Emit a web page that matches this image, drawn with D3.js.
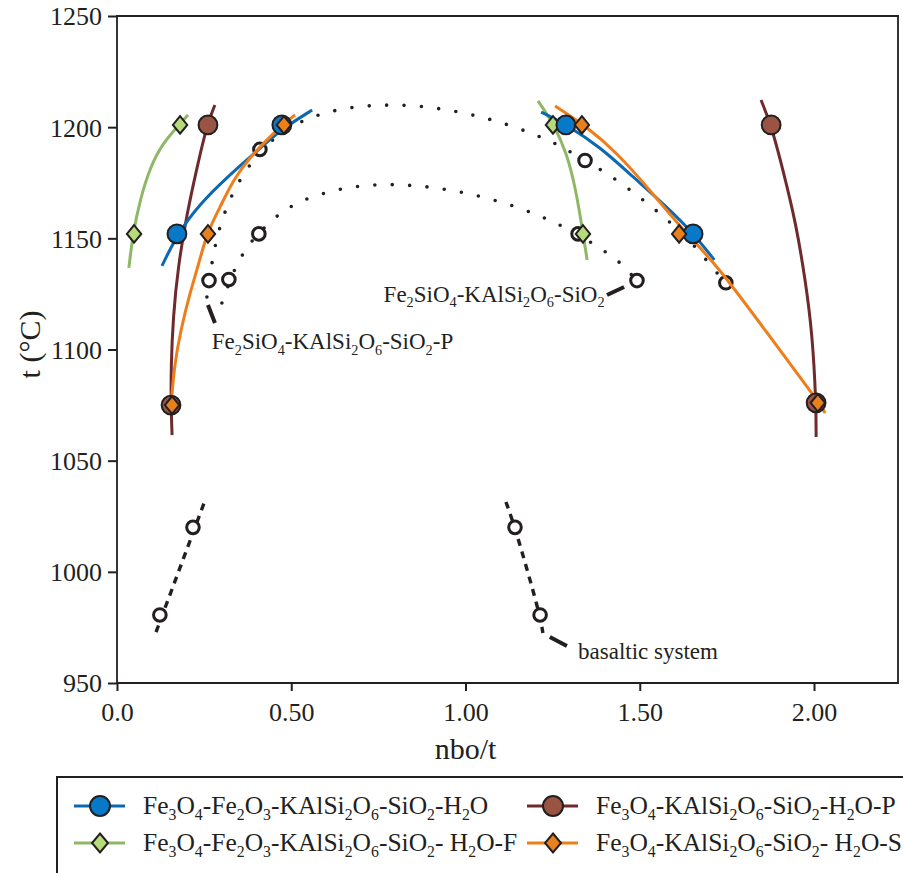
<!DOCTYPE html>
<html><head><meta charset="utf-8">
<script src="https://cdn.jsdelivr.net/npm/d3@7"></script>
<style>
body{margin:0;background:#fff}
svg{display:block;font-family:"Liberation Serif","Times New Roman",serif}
text{font-family:"Liberation Serif","Times New Roman",serif !important;fill:#231f20}
</style>
</head><body>
<svg id="c" width="903" height="873"></svg>
<script>
// ---------- data ----------
const xTicks = [0, 0.5, 1.0, 1.5, 2.0];
const xTickLabels = ["0.0", "0.50", "1.00", "1.50", "2.00"];
const yTicks = [950, 1000, 1050, 1100, 1150, 1200, 1250];

// Fe3O4-Fe2O3-KAlSi2O6-SiO2-H2O (blue)
const blueLeft  = [[0.129,1137.6],[0.175,1152.4],[0.238,1165.5],[0.316,1177.5],[0.39,1187.6],[0.468,1198.7],[0.56,1207.7]];
const blueRight = [[1.217,1206.8],[1.291,1201],[1.386,1191.1],[1.481,1177.6],[1.578,1164.1],[1.653,1152.4],[1.714,1140.3]];
const bluePts   = [[0.172,1152],[0.473,1201],[1.288,1201],[1.653,1152]];

// Fe3O4-Fe2O3-KAlSi2O6-SiO2- H2O-F (green)
const greenLeft  = [[0.034,1136.7],[0.046,1152.4],[0.066,1167.2],[0.095,1182.1],[0.132,1192.9],[0.178,1201],[0.204,1205.5]];
const greenRight = [[1.208,1211.8],[1.251,1201.9],[1.291,1188.4],[1.317,1171.7],[1.337,1152.4],[1.349,1140.3]];
const greenPts   = [[0.181,1201],[0.049,1152],[1.251,1201],[1.337,1152]];

// Fe3O4-KAlSi2O6-SiO2-H2O-P (brown)
const brownLeft  = [[0.281,1210],[0.258,1201],[0.23,1182.1],[0.201,1161.4],[0.175,1137.1],[0.161,1114.6],[0.155,1092.1],[0.155,1074.6],[0.158,1061.5]];
const brownRight = [[1.848,1212.2],[1.877,1201],[1.911,1180.7],[1.948,1156.9],[1.975,1131.3],[1.995,1107.4],[2.006,1075.9],[2.006,1060.6]];
const brownPts   = [[0.261,1201],[0.155,1075],[1.877,1201],[2.006,1076]];

// Fe3O4-KAlSi2O6-SiO2- H2O-S (orange)
const orangeLeft  = [[0.155,1074.6],[0.164,1092.1],[0.181,1107.4],[0.209,1125.4],[0.238,1140.3],[0.258,1152.4],[0.296,1164.1],[0.333,1176.2],[0.382,1186.6],[0.43,1194.2],[0.473,1201],[0.511,1205.5]];
const orangeRight = [[1.257,1209.5],[1.349,1200.1],[1.435,1188.4],[1.529,1171.7],[1.616,1155.1],[1.722,1138],[1.865,1107.5],[2.009,1077.3],[2.032,1071.4]];
const orangePts   = [[0.479,1201],[0.261,1152],[0.158,1075],[1.334,1201],[1.613,1152],[2.011,1076]];

// Fe2SiO4-KAlSi2O6-SiO2-P (outer dotted arc) and Fe2SiO4-KAlSi2O6-SiO2 (inner dotted arc)
const arcP = [[0.258,1123.6],[0.273,1140.3],[0.293,1155.1],[0.33,1170.4],[0.382,1183.9],[0.45,1195.6],[0.537,1203.7],[0.634,1208.2],[0.735,1210],[0.838,1210],[0.938,1208.2],[1.039,1205],[1.136,1200.5],[1.231,1194.7],[1.277,1191.1],[1.406,1179.4],[1.489,1169.9],[1.567,1160],[1.644,1149.3],[1.707,1137.1],[1.773,1125]];
const arcS = [[0.301,1120.9],[0.333,1134.9],[0.359,1142.5],[0.387,1149.2],[0.453,1159.6],[0.496,1164.1],[0.545,1168.1],[0.643,1172.6],[0.743,1174.4],[0.844,1174],[0.944,1172.2],[1.044,1169],[1.142,1164.5],[1.237,1158.7],[1.323,1151.9],[1.412,1143],[1.452,1138],[1.492,1130.8]];
const openPts = [[0.41,1190],[0.407,1152],[0.264,1131],[0.321,1131.5],[1.343,1185],[1.323,1152],[1.492,1131],[1.747,1130],[0.218,1020],[0.123,980.6],[1.142,1020],[1.214,980.6]];

// basaltic system (dashed)
const basaltLeft  = [[0.112,972.9],[0.25,1031]];
const basaltRight = [[1.116,1031.4],[1.142,1020.2],[1.214,980.6],[1.222,972.5]];

// annotations
const annoLabels = [
  {text:"Fe_2SiO_4-KAlSi_2O_6-SiO_2-P", at:[0.272,1100.2], leader:[[0.261,1120],[0.281,1111.9]]},
  {text:"Fe_2SiO_4-KAlSi_2O_6-SiO_2",   at:[0.765,1121.4], leader:[[1.406,1124.5],[1.455,1128.1]]},
  {text:"basaltic system",              at:[1.323,960.8],  leader:[[1.242,970.7],[1.291,966.6]]}
];

const legendNames = ["Fe_3O_4-Fe_2O_3-KAlSi_2O_6-SiO_2-H_2O","Fe_3O_4-KAlSi_2O_6-SiO_2-H_2O-P","Fe_3O_4-Fe_2O_3-KAlSi_2O_6-SiO_2- H_2O-F","Fe_3O_4-KAlSi_2O_6-SiO_2- H_2O-S"];

// ---------- styles ----------
const C = {
  blue:  {line:"#0c68b0", fill:"#0878c8", shape:"circle"},
  brown: {line:"#6e2a2c", fill:"#9a5444", shape:"circle"},
  green: {line:"#8fb866", fill:"#b6dc7a", shape:"diamond"},
  orange:{line:"#ef7d1a", fill:"#e8801c", shape:"diamond"}
};
const ink = "#231f20";
const SERIF = '"Liberation Serif","Times New Roman",serif';

const svg = d3.select("#c");
const x = d3.scaleLinear().domain([0, 2.241]).range([117, 898]);
const y = d3.scaleLinear().domain([950, 1250]).range([683, 16]);

function rich(t, str, fs){
  const parts = str.split(/(_\d)/).filter(s=>s.length);
  let down = false;
  parts.forEach(p=>{
    if(p[0]==='_'){
      t.append('tspan').text(p.slice(1)).attr('font-size', fs*0.62).attr('dy', down?0:fs*0.24);
      down = true;
    } else {
      t.append('tspan').text(p).attr('dy', down?-fs*0.24:0);
      down = false;
    }
  });
}

// frame & axes
svg.append("path").attr("d", `M${x.range()[0]},${y(950)}V${y(1250)}H${x.range()[1]}V${y(950)}Z`)
  .attr("fill","none").attr("stroke",ink).attr("stroke-width",1.8);

const xAxis = svg.append("g").attr("transform",`translate(0,${y(950)})`)
  .call(d3.axisBottom(x).tickValues(xTicks).tickFormat((d,i)=>xTickLabels[i]).tickSize(8).tickPadding(12));
const yAxis = svg.append("g").attr("transform",`translate(${x(0)},0)`)
  .call(d3.axisLeft(y).tickValues(yTicks).tickFormat(d3.format("d")).tickSize(9).tickPadding(6));
[xAxis,yAxis].forEach(a=>{
  a.attr("font-family", SERIF).attr("font-size", 26);
  a.select(".domain").remove();
  a.selectAll("line").attr("stroke",ink).attr("stroke-width",2);
  a.selectAll("text").style("font-family",SERIF).attr("font-size",26).attr("fill",ink);
});
yAxis.selectAll("text").attr("dy","0.34em");

svg.append("text").attr("x", x(1.0)).attr("y", 759).attr("text-anchor","middle").attr("font-size",30).style("font-family",SERIF).text("nbo/t");
svg.append("text").attr("transform",`translate(40,${(y(950)+y(1250))/2 - 5}) rotate(-90)`).attr("text-anchor","middle").attr("font-size",30).style("font-family",SERIF).text("t (°C)");

const line = d3.line().x(d=>x(d[0])).y(d=>y(d[1])).curve(d3.curveBasis);

// dotted arcs
[arcP, arcS].forEach(a=>{
  svg.append("path").attr("d", line(a)).attr("fill","none").attr("stroke",ink)
    .attr("stroke-width",3.6).attr("stroke-linecap","round").attr("stroke-dasharray","0,17.4");
});
// basaltic dashed
[basaltLeft, basaltRight].forEach(a=>{
  svg.append("path").attr("d", line(a)).attr("fill","none").attr("stroke",ink)
    .attr("stroke-width",3.4).attr("stroke-dasharray","7,6");
});
// annotations
annoLabels.forEach(a=>{
  svg.append("path").attr("d", d3.line().x(d=>x(d[0])).y(d=>y(d[1]))(a.leader))
    .attr("stroke",ink).attr("stroke-width",4);
  const t = svg.append("text").attr("x", x(a.at[0])).attr("y", y(a.at[1])).attr("font-size",23).style("font-family",SERIF);
  rich(t, a.text, 23);
});

// open circles
svg.append("g").selectAll("circle").data(openPts).join("circle")
  .attr("cx",d=>x(d[0])).attr("cy",d=>y(d[1])).attr("r",6.3)
  .attr("fill","#fff").attr("stroke",ink).attr("stroke-width",3);

// coloured curves
const curves = [["green",greenLeft],["green",greenRight],["brown",brownLeft],["brown",brownRight],
                ["blue",blueLeft],["blue",blueRight],["orange",orangeLeft],["orange",orangeRight]];
curves.forEach(([k,a])=>{
  svg.append("path").attr("d", line(a)).attr("fill","none").attr("stroke",C[k].line).attr("stroke-width",3);
});

function marker(g, k, cx, cy, big){
  const s = C[k];
  if(s.shape==="circle"){
    g.append("circle").attr("cx",cx).attr("cy",cy).attr("r", big?10:9.4)
      .attr("fill",s.fill).attr("stroke",ink).attr("stroke-width",2);
  } else {
    const w = big?8:7.2, h = big?9.5:8.8;
    g.append("path").attr("d",`M${cx},${cy-h}L${cx+w},${cy}L${cx},${cy+h}L${cx-w},${cy}Z`)
      .attr("fill",s.fill).attr("stroke",ink).attr("stroke-width",2);
  }
}
const mg = svg.append("g");
[["green",greenPts],["brown",brownPts],["blue",bluePts],["orange",orangePts]].forEach(([k,pts])=>{
  pts.forEach(d=>marker(mg,k,x(d[0]),y(d[1]),false));
});

// legend
svg.append("path").attr("d","M57,873V777H903").attr("fill","none").attr("stroke",ink).attr("stroke-width",2);
const legKeys = ["blue","brown","green","orange"];
const colX = [74, 527], rowY = [806, 843];
legKeys.forEach((k,i)=>{
  const cx = colX[i%2], cy = rowY[Math.floor(i/2)];
  svg.append("line").attr("x1",cx).attr("x2",cx+51).attr("y1",cy).attr("y2",cy)
    .attr("stroke",C[k].line).attr("stroke-width",3);
  marker(svg,k,cx+26,cy,true);
  const t = svg.append("text").attr("x",cx+69).attr("y",cy+8).attr("font-size",25.5).style("font-family",SERIF);
  rich(t, legendNames[i], 25.5);
});
</script>
</body></html>
